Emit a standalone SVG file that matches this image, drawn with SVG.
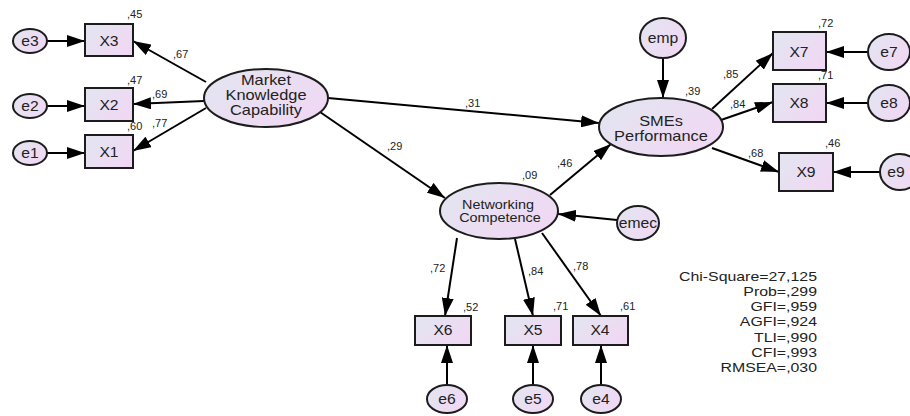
<svg xmlns="http://www.w3.org/2000/svg" width="910" height="416" viewBox="0 0 910 416">
<defs>
<linearGradient id="fillg" x1="0" y1="0" x2="1" y2="0.6">
<stop offset="0" stop-color="#e2e6f0"/>
<stop offset="1" stop-color="#f0d8f4"/>
</linearGradient>
<marker id="ah" markerUnits="userSpaceOnUse" markerWidth="18" markerHeight="12" refX="18" refY="6" orient="auto">
<path d="M0,0 L18,6 L0,12 z" fill="#000"/>
</marker>
<style>
.sh{fill:url(#fillg);stroke:#1c1c1c;stroke-width:2}
.cn line{stroke:#000;stroke-width:2;marker-end:url(#ah)}
text{font-family:"Liberation Sans",Arial,sans-serif;fill:#222}
.t{font-size:14px;text-anchor:middle}
.tb{font-size:14.5px;text-anchor:middle}
.tn{font-size:12px;text-anchor:middle}
.lb{font-size:11px}
.st{font-size:12.8px;text-anchor:end}
</style>
</defs>
<rect width="910" height="416" fill="#fff"/>

<g id="connectors" class="cn">
<line x1="47" y1="41" x2="85" y2="41"/>
<line x1="47" y1="106" x2="85" y2="106"/>
<line x1="47" y1="153" x2="85" y2="153"/>
<line x1="206" y1="82" x2="133" y2="41"/>
<line x1="204" y1="101" x2="133" y2="104"/>
<line x1="206" y1="108" x2="133" y2="151"/>
<line x1="328" y1="98" x2="599" y2="123"/>
<line x1="320" y1="112" x2="445" y2="198"/>
<line x1="550" y1="195" x2="611" y2="144"/>
<line x1="663" y1="58" x2="663" y2="98"/>
<line x1="712" y1="109" x2="773" y2="53"/>
<line x1="721" y1="120" x2="773" y2="102"/>
<line x1="712" y1="148" x2="779" y2="172"/>
<line x1="868" y1="52" x2="826" y2="52"/>
<line x1="868" y1="103" x2="826" y2="103"/>
<line x1="880" y1="172" x2="833" y2="172"/>
<line x1="617" y1="220" x2="558" y2="214"/>
<line x1="457" y1="238" x2="445" y2="316"/>
<line x1="515" y1="239" x2="533" y2="316"/>
<line x1="542" y1="233" x2="601" y2="316"/>
<line x1="447" y1="385" x2="447" y2="345"/>
<line x1="533" y1="385" x2="533" y2="345"/>
<line x1="601" y1="385" x2="601" y2="345"/>
</g>

<g id="e3"><ellipse class="sh" cx="30" cy="41" rx="17" ry="12"/><text class="t" transform="translate(30 46) scale(1.12 1)">e3</text></g>
<g id="e2"><ellipse class="sh" cx="30" cy="106" rx="17" ry="12"/><text class="t" transform="translate(30 111) scale(1.12 1)">e2</text></g>
<g id="e1"><ellipse class="sh" cx="30" cy="153" rx="17" ry="12"/><text class="t" transform="translate(30 158) scale(1.12 1)">e1</text></g>

<g id="X3"><rect class="sh" x="85" y="24" width="48" height="32"/><text class="t" transform="translate(109 46) scale(1.12 1)">X3</text></g>
<g id="X2"><rect class="sh" x="85" y="88" width="48" height="33"/><text class="t" transform="translate(109 110) scale(1.12 1)">X2</text></g>
<g id="X1"><rect class="sh" x="85" y="135" width="48" height="33"/><text class="t" transform="translate(109 157) scale(1.12 1)">X1</text></g>

<g id="MKC"><ellipse class="sh" cx="266" cy="98" rx="62" ry="29"/>
<text class="tb" transform="translate(266 85) scale(1.13 1)">Market</text>
<text class="tb" transform="translate(266 99.5) scale(1.13 1)">Knowledge</text>
<text class="tb" transform="translate(266 115) scale(1.13 1)">Capability</text></g>

<g id="emp"><ellipse class="sh" cx="663" cy="38" rx="23" ry="20"/><text class="t" transform="translate(663 43) scale(1.12 1)">emp</text></g>

<g id="SMEs"><ellipse class="sh" cx="661" cy="127" rx="62" ry="29"/>
<text class="tb" transform="translate(661 126) scale(1.13 1)">SMEs</text>
<text class="tb" transform="translate(661 141) scale(1.13 1)">Performance</text></g>

<g id="X7"><rect class="sh" x="773" y="32" width="53" height="38"/><text class="t" transform="translate(799 57) scale(1.12 1)">X7</text></g>
<g id="X8"><rect class="sh" x="773" y="84" width="53" height="38"/><text class="t" transform="translate(799 108) scale(1.12 1)">X8</text></g>
<g id="X9"><rect class="sh" x="779" y="153" width="54" height="38"/><text class="t" transform="translate(806 177) scale(1.12 1)">X9</text></g>

<g id="e7"><ellipse class="sh" cx="889" cy="52" rx="21" ry="18"/><text class="t" transform="translate(889 57) scale(1.12 1)">e7</text></g>
<g id="e8"><ellipse class="sh" cx="889" cy="103" rx="21" ry="18"/><text class="t" transform="translate(889 108) scale(1.12 1)">e8</text></g>
<g id="e9"><ellipse class="sh" cx="900" cy="172" rx="20" ry="18"/><text class="t" transform="translate(896 177) scale(1.12 1)">e9</text></g>

<g id="NC"><ellipse class="sh" cx="499" cy="211" rx="59" ry="28"/>
<text class="tn" transform="translate(498 209) scale(1.2 1)">Networking</text>
<text class="tn" transform="translate(500 222) scale(1.2 1)">Competence</text></g>

<g id="emec"><ellipse class="sh" cx="638" cy="223" rx="21" ry="17"/><text class="t" transform="translate(638 228) scale(1.12 1)">emec</text></g>

<g id="X6"><rect class="sh" x="415" y="316" width="56" height="29"/><text class="t" transform="translate(443 335) scale(1.12 1)">X6</text></g>
<g id="X5"><rect class="sh" x="505" y="316" width="56" height="29"/><text class="t" transform="translate(533 335) scale(1.12 1)">X5</text></g>
<g id="X4"><rect class="sh" x="573" y="316" width="55" height="29"/><text class="t" transform="translate(600 335) scale(1.12 1)">X4</text></g>

<g id="e6"><ellipse class="sh" cx="447" cy="399" rx="20" ry="14"/><text class="t" transform="translate(447 404) scale(1.12 1)">e6</text></g>
<g id="e5"><ellipse class="sh" cx="533" cy="399" rx="20" ry="14"/><text class="t" transform="translate(533 404) scale(1.12 1)">e5</text></g>
<g id="e4"><ellipse class="sh" cx="601" cy="399" rx="20" ry="14"/><text class="t" transform="translate(601 404) scale(1.12 1)">e4</text></g>

<g id="labels" class="lb">
<text x="127" y="18">,45</text>
<text x="127" y="84">,47</text>
<text x="127" y="130">,60</text>
<text x="173" y="58">,67</text>
<text x="152" y="98">,69</text>
<text x="152" y="127">,77</text>
<text x="465" y="107">,31</text>
<text x="387" y="150">,29</text>
<text x="522" y="179">,09</text>
<text x="557" y="167">,46</text>
<text x="685" y="95">,39</text>
<text x="723" y="78">,85</text>
<text x="730" y="108">,84</text>
<text x="748" y="157">,68</text>
<text x="818" y="27">,72</text>
<text x="818" y="79">,71</text>
<text x="825" y="147">,46</text>
<text x="430" y="272">,72</text>
<text x="528" y="275">,84</text>
<text x="573" y="270">,78</text>
<text x="463" y="311">,52</text>
<text x="553" y="310">,71</text>
<text x="620" y="310">,61</text>
</g>

<g id="stats" class="st">
<text transform="translate(817 281) scale(1.24 1)">Chi-Square=27,125</text>
<text transform="translate(817 296) scale(1.24 1)">Prob=,299</text>
<text transform="translate(817 311) scale(1.24 1)">GFI=,959</text>
<text transform="translate(817 326) scale(1.24 1)">AGFI=,924</text>
<text transform="translate(817 342) scale(1.24 1)">TLI=,990</text>
<text transform="translate(817 357) scale(1.24 1)">CFI=,993</text>
<text transform="translate(817 372) scale(1.24 1)">RMSEA=,030</text>
</g>
</svg>
